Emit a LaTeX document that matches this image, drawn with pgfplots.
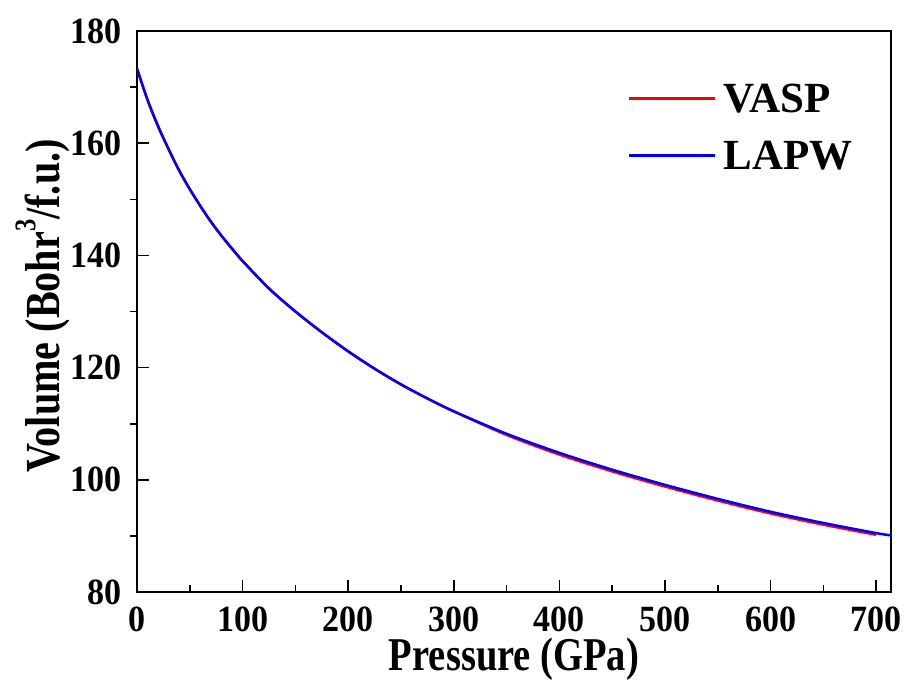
\documentclass[border=0pt]{standalone}
\usepackage{fontspec}
\setmainfont{Liberation Serif}
\newfontfamily\tickfont{Liberation Serif Bold}[FakeStretch=0.92]
\newfontfamily\labfont{Liberation Serif Bold}[FakeStretch=0.82]
\usepackage{pgfplots}
\pgfplotsset{compat=1.18}
\usetikzlibrary{calc}

% pressure (GPa) vs volume (Bohr^3/f.u.)
\pgfplotstableread{
P V
0 173.3
10 167.7
20 163.0
30 158.9
40 155.1
50 151.8
60 148.8
70 146.0
80 143.5
90 141.2
100 139.0
125 134.1
150 130.0
175 126.3
200 122.9
225 119.8
250 117.0
275 114.5
300 112.2
350 108.0
400 104.5
450 101.5
500 98.8
550 96.3
600 94.0
650 92.0
700 90.2
}\vasp
\pgfplotstableread{
P V
0 173.3
10 167.7
20 163.0
30 158.9
40 155.1
50 151.8
60 148.8
70 146.0
80 143.5
90 141.2
100 139.0
125 134.1
150 130.0
175 126.3
200 122.9
225 119.8
250 117.0
275 114.5
300 112.2
350 108.2
400 104.8
450 101.8
500 99.1
550 96.6
600 94.3
650 92.3
700 90.5
714 90.1
}\lapw

\begin{document}
\begin{tikzpicture}
\begin{axis}[
  name=ax,
  scale only axis,
  width=754pt, height=561pt,
  xmin=0, xmax=714, ymin=80, ymax=180,
  xtick={0,100,...,700}, ytick={80,100,...,180},
  minor x tick num=1, minor y tick num=1,
  xtick pos=lower, ytick pos=left,
  tick align=inside,
  major tick length=12pt, minor tick length=7pt,
  minor y tick style={xshift=-7pt},
  axis line style={line width=2pt},
  every tick/.style={black, line width=1.6pt},
  /pgf/number format/assume math mode=true,
  ticklabel style={font=\tickfont\fontsize{37}{37}\selectfont, inner sep=0pt},
  xticklabel style={yshift=-15pt},
  yticklabel style={xshift=-15pt},
  xlabel={Pressure (GPa)},
  ylabel={Volume (Bohr\raisebox{0.5em}{\fontsize{30}{30}\selectfont 3}/f.u.)},
  every axis x label/.style={at={(axis description cs:0.5,-0.119)}, anchor=center, inner sep=0pt,
    font=\labfont\fontsize{47}{47}\selectfont},
  every axis y label/.style={at={(axis description cs:-0.1247,0.51)}, rotate=90, anchor=center, inner sep=0pt,
    font=\labfont\fontsize{49}{49}\selectfont},
  legend cell align=left,
  legend image code/.code={\draw[#1] (0pt,0pt) -- (86pt,0pt);},
  legend style={draw=none, fill=none, at={(axis description cs:0.647,0.909)}, anchor=north west,
    font=\bfseries\fontsize{43}{43}\selectfont, row sep=28.5pt, column sep=0pt,
    nodes={inner sep=0pt, text height=28.5pt, text depth=0pt}},
]
\addplot[red, line width=2.5pt, smooth] table[x=P, y=V] {\vasp};
\addlegendentry{\hspace{7pt}VASP}
\addplot[blue, line width=2.5pt, smooth] table[x=P, y=V] {\lapw};
\addlegendentry{\hspace{7pt}LAPW}
\end{axis}
\pgfresetboundingbox
\path[use as bounding box] ($(ax.south west)+(-137pt,-97pt)$) rectangle ($(ax.north east)+(14pt,31pt)$);
\end{tikzpicture}
\end{document}
